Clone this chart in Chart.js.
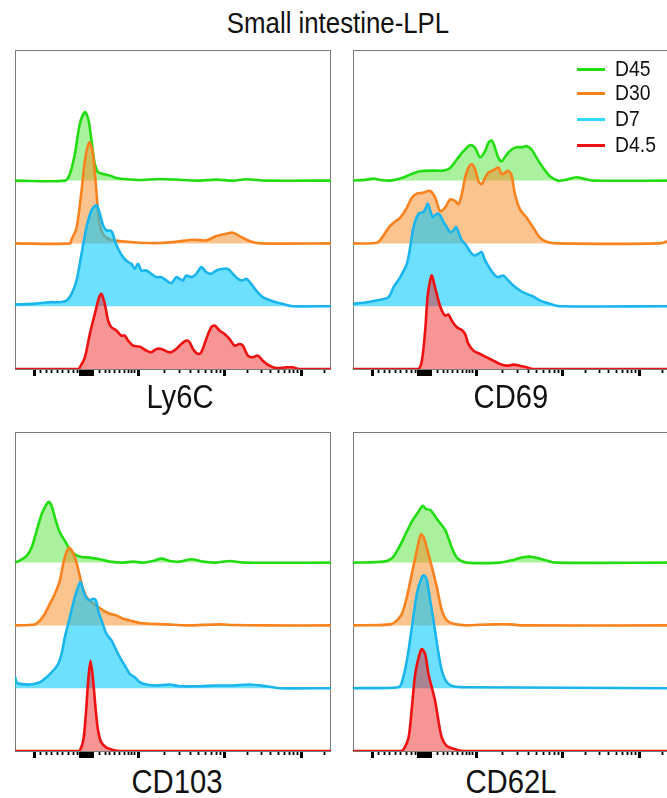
<!DOCTYPE html>
<html><head><meta charset="utf-8">
<script src="https://cdn.jsdelivr.net/npm/chart.js@4"></script>
<style>
html,body{margin:0;padding:0;width:667px;height:798px;overflow:hidden;background:#fff;font-family:"Liberation Sans",Arial,sans-serif;}
.t{position:absolute;white-space:nowrap;line-height:1;color:#111;}
.c{transform:translateX(-50%) scaleX(0.86);transform-origin:center top;}
.l{transform:scaleX(0.88);transform-origin:left top;}
.sw{position:absolute;width:28px;height:3px;}
canvas{position:absolute;}
</style></head><body>
<div class="t c" id="title" style="left:338px;top:8px;font-size:30px;">Small intestine-LPL</div>
<canvas id="p1" width="322" height="331" style="left:12px;top:47px;"></canvas>
<canvas id="p2" width="322" height="331" style="left:350px;top:47px;"></canvas>
<canvas id="p3" width="322" height="331" style="left:12px;top:429px;"></canvas>
<canvas id="p4" width="322" height="331" style="left:350px;top:429px;"></canvas>
<div id="labels"></div>
<div id="legend"></div>
<script>
// ---- data ----
const SERIES = ['D45', 'D30', 'D7', 'D4.5'];
const MARKERS = ['Ly6C', 'CD69', 'CD103', 'CD62L'];
const TICKS_MAJOR = [60, 197, 204, 211, 218, 225, 232, 370, 630, 860];
const TICKS_MINOR = [77, 95, 110, 127, 143, 160, 175, 187, 255, 273, 285, 300, 315, 328, 340, 350, 360,
  448, 494, 527, 552, 572, 590, 605, 618, 699, 740, 768, 791, 809, 824, 838, 849, 929];

// histograms: [channel, count]
const LY6C_D45 = [[0,0],[150,0],[165,20],[180,80],[195,170],[210,205],[220,185],[230,120],[240,50],[250,25],[265,20],[285,15],[305,8],[335,4],[375,2],[435,5],[505,2],[555,0],[605,3],[655,0],[695,4],[755,0],[950,0]];
const LY6C_D30 = [[0,0],[165,0],[170,12],[185,47],[200,157],[210,247],[223,302],[233,277],[243,177],[253,67],[265,27],[285,12],[315,7],[375,2],[435,1],[485,5],[535,11],[575,9],[605,22],[635,29],[655,32],[675,22],[705,7],[735,0],[950,0]];
const LY6C_D7 = [[0,5],[55,7],[105,12],[135,12],[155,17],[170,37],[185,77],[200,157],[215,237],[230,287],[245,302],[255,277],[265,242],[275,227],[290,225],[300,197],[310,172],[325,147],[340,132],[350,127],[360,112],[370,127],[380,107],[395,107],[410,97],[425,87],[440,87],[455,77],[470,69],[485,87],[495,82],[505,77],[515,92],[530,87],[545,97],[560,117],[575,102],[590,97],[605,107],[625,112],[640,112],[655,97],[670,82],[685,77],[695,82],[710,67],[725,47],[745,27],[775,15],[805,7],[835,0],[950,0]];
const LY6C_D4_5 = [[0,0],[190,0],[195,5],[210,35],[225,105],[240,165],[253,215],[260,225],[270,195],[280,145],[290,125],[305,115],[320,100],[330,100],[340,85],[355,70],[375,67],[395,55],[410,50],[425,60],[440,60],[455,53],[470,50],[485,60],[500,75],[515,85],[525,80],[535,60],[550,45],[560,50],[575,90],[590,125],[600,130],[615,115],[630,105],[645,90],[660,70],[675,75],[685,70],[700,40],[715,35],[730,40],[745,25],[765,10],[785,3],[815,5],[835,5],[855,0],[950,0]];

const CD69_D45 = [[0,0],[42,3],[62,6],[82,2],[112,0],[142,6],[172,18],[202,28],[242,30],[272,30],[292,38],[312,63],[332,88],[352,106],[367,98],[382,70],[397,88],[407,113],[417,120],[427,98],[437,68],[447,58],[462,78],[477,93],[492,100],[507,100],[522,103],[537,93],[552,68],[572,38],[592,13],[617,0],[642,3],[672,10],[692,6],[722,0],[950,0]];
const CD69_D30 = [[0,0],[72,2],[87,17],[107,47],[122,62],[142,77],[162,107],[177,137],[192,149],[212,152],[232,157],[247,137],[262,97],[277,107],[292,132],[307,127],[317,117],[327,147],[337,197],[347,227],[357,237],[367,222],[377,187],[387,177],[397,197],[407,212],[417,217],[427,222],[437,227],[447,207],[457,212],[467,217],[477,202],[487,147],[502,102],[522,77],[542,47],[562,17],[582,5],[612,0],[922,0],[950,8]];
const CD69_D7 = [[0,7],[42,12],[82,19],[107,27],[122,57],[142,87],[162,127],[172,177],[182,237],[197,277],[212,282],[220,297],[225,307],[232,287],[240,267],[252,277],[262,272],[272,252],[282,237],[292,222],[302,227],[310,237],[317,222],[327,197],[337,187],[347,172],[357,157],[367,152],[377,157],[387,162],[397,137],[412,112],[427,92],[437,87],[452,92],[467,77],[482,62],[502,47],[522,37],[542,29],[562,17],[592,7],[622,0],[950,0]];
const CD69_D4_5 = [[0,0],[195,0],[207,25],[217,115],[224,215],[232,265],[237,280],[244,255],[257,205],[267,175],[277,160],[287,163],[297,145],[312,125],[327,117],[337,105],[347,75],[362,55],[382,45],[402,35],[422,25],[442,15],[462,10],[482,13],[502,10],[522,5],[542,0],[950,0]];

const CD103_D45 = [[0,0],[15,7],[35,20],[50,45],[65,95],[80,145],[95,175],[102,182],[110,170],[120,135],[135,90],[150,65],[165,40],[180,25],[200,17],[225,15],[255,10],[285,3],[325,0],[355,3],[385,0],[415,5],[440,12],[465,5],[495,3],[530,10],[565,3],[605,0],[645,5],[685,0],[950,0]];
const CD103_D30 = [[0,0],[60,3],[75,15],[90,35],[105,65],[120,95],[135,135],[145,185],[155,220],[163,232],[173,220],[183,195],[193,155],[203,115],[215,85],[230,70],[250,55],[265,45],[285,35],[305,30],[325,20],[345,15],[375,7],[405,5],[455,3],[515,0],[615,3],[655,1],[755,0],[950,0]];
const CD103_D7 = [[0,35],[5,17],[15,13],[45,11],[75,18],[95,33],[115,53],[130,73],[140,103],[150,153],[160,193],[170,233],[180,273],[190,303],[197,318],[205,293],[213,273],[223,263],[235,268],[243,263],[250,233],[260,203],[275,163],[290,143],[300,123],[315,93],[330,68],[345,43],[360,33],[375,18],[395,11],[425,8],[465,11],[495,6],[555,6],[605,8],[655,8],[705,11],[755,6],[795,0],[950,0]];
const CD103_D4_5 = [[0,0],[190,0],[195,2],[205,30],[213,110],[220,210],[227,270],[235,210],[243,120],[250,60],[260,25],[275,10],[295,3],[315,0],[950,0]];

const CD62L_D45 = [[0,0],[92,3],[117,13],[137,43],[157,83],[177,123],[197,153],[210,170],[220,160],[232,158],[247,138],[262,118],[277,98],[287,73],[302,33],[317,10],[342,0],[442,0],[482,8],[507,15],[532,18],[557,13],[582,6],[607,0],[950,0]];
const CD62L_D30 = [[0,0],[112,3],[132,15],[147,35],[162,85],[177,155],[192,225],[204,272],[212,265],[224,225],[237,175],[252,115],[267,45],[282,15],[302,5],[342,0],[382,2],[422,3],[472,3],[512,0],[950,0]];
const CD62L_D7 = [[0,0],[137,3],[147,18],[162,83],[177,183],[192,283],[207,333],[214,338],[222,323],[232,263],[242,203],[254,123],[267,53],[282,18],[302,6],[342,3],[950,0]];
const CD62L_D4_5 = [[0,0],[142,0],[152,5],[167,40],[177,130],[187,230],[200,290],[207,305],[217,290],[227,230],[237,190],[247,150],[257,90],[267,40],[282,15],[307,5],[330,0],[950,0]];

// ---- styles / layout ----
const STYLE = {
  'D45':  {line: '#22dd11', fill: 'rgba(40,220,10,0.40)', legend: '#22dd11'},
  'D30':  {line: '#f7821e', fill: 'rgba(248,135,30,0.50)', legend: '#f7821e'},
  'D7':   {line: '#19b5ec', fill: 'rgba(0,200,255,0.57)', legend: '#33d8ff'},
  'D4.5': {line: '#ee1111', fill: 'rgba(238,17,17,0.45)', legend: '#ee1111'}
};
const ROW_STEP = 188;
const Y_MAX = 955;
const X_MAX = 950;

const framePlugin = {
  id: 'frame',
  beforeDatasetsDraw(chart) {
    const {ctx, chartArea: a} = chart;
    ctx.save();
    ctx.strokeStyle = '#7a7a7a';
    ctx.lineWidth = 1;
    ctx.strokeRect(Math.round(a.left) + 0.5, Math.round(a.top) + 0.5,
      Math.round(a.right - a.left) - 1, Math.round(a.bottom - a.top));
    ctx.restore();
  }
};

const MAJOR_SET = new Set(TICKS_MAJOR);
const ALL_TICKS = TICKS_MAJOR.concat(TICKS_MINOR).sort((a, b) => a - b);

function makePanel(id, arrays) {
  const datasets = [];
  for (let i = SERIES.length - 1; i >= 0; i--) {
    const name = SERIES[i];
    const base = (SERIES.length - 1 - i) * ROW_STEP;
    datasets.push({
      label: name,
      data: arrays[i].map(([x, h]) => ({x: x, y: base + h})),
      borderColor: STYLE[name].line,
      backgroundColor: STYLE[name].fill,
      fill: {value: base},
      borderWidth: 2.6,
      pointRadius: 0,
      tension: 0.3,
      borderJoinStyle: 'round'
    });
  }
  return new Chart(document.getElementById(id), {
    type: 'line',
    data: {datasets},
    options: {
      responsive: false,
      animation: false,
      devicePixelRatio: 1,
      layout: {padding: {left: 3, right: 3, top: 3, bottom: 2}},
      plugins: {legend: {display: false}, tooltip: {enabled: false}, title: {display: false}},
      scales: {
        x: {
          type: 'linear', min: 0, max: X_MAX, bounds: 'data', z: 1,
          afterBuildTicks: (scale) => { scale.ticks = ALL_TICKS.map(v => ({value: v})); },
          ticks: {display: false, autoSkip: false},
          border: {display: false},
          grid: {
            display: true, drawOnChartArea: false, drawTicks: true, tickLength: 7,
            tickColor: '#000',
            tickWidth: (c) => (c.tick && MAJOR_SET.has(c.tick.value)) ? 3 : 1.8,
            tickBorderDash: (c) => (c.tick && MAJOR_SET.has(c.tick.value)) ? [] : [4, 20]
          }
        },
        y: {type: 'linear', min: 0, max: Y_MAX, display: false}
      }
    },
    plugins: [framePlugin]
  });
}

makePanel('p1', [LY6C_D45, LY6C_D30, LY6C_D7, LY6C_D4_5]);
makePanel('p2', [CD69_D45, CD69_D30, CD69_D7, CD69_D4_5]);
makePanel('p3', [CD103_D45, CD103_D30, CD103_D7, CD103_D4_5]);
makePanel('p4', [CD62L_D45, CD62L_D30, CD62L_D7, CD62L_D4_5]);

// axis labels
const LABEL_POS = [[180, 379], [511, 379], [177, 764], [511, 764]];
const labels = document.getElementById('labels');
MARKERS.forEach((m, i) => {
  const d = document.createElement('div');
  d.className = 't c';
  d.style.left = LABEL_POS[i][0] + 'px';
  d.style.top = LABEL_POS[i][1] + 'px';
  d.style.fontSize = '34px';
  d.textContent = m;
  labels.appendChild(d);
});

// legend
const legend = document.getElementById('legend');
SERIES.forEach((s, i) => {
  const y = [69, 93, 119, 145][i];
  const sw = document.createElement('div');
  sw.className = 'sw';
  sw.style.left = '577px';
  sw.style.top = (y - 1.5) + 'px';
  sw.style.background = STYLE[s].legend;
  legend.appendChild(sw);
  const t = document.createElement('div');
  t.className = 't l';
  t.style.left = '615px';
  t.style.top = (y - 10.8) + 'px';
  t.style.fontSize = '22px';
  t.textContent = s;
  legend.appendChild(t);
});
</script>
</body></html>
